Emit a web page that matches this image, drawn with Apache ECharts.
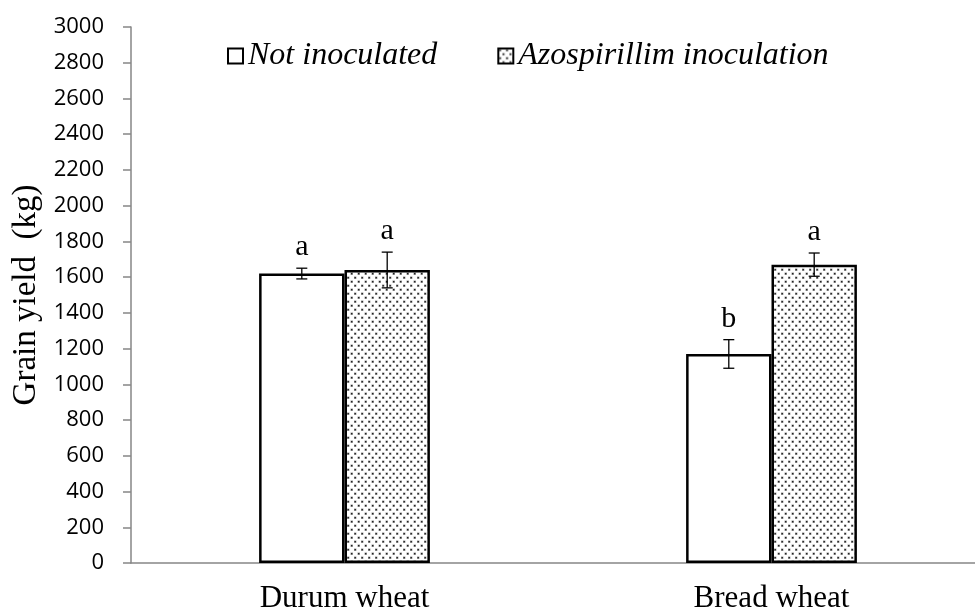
<!DOCTYPE html>
<html>
<head>
<meta charset="utf-8">
<script src="https://cdn.jsdelivr.net/npm/echarts@6/dist/echarts.min.js"></script>
<style>html,body{margin:0;padding:0;background:#fff;overflow:hidden;width:975px;height:615px}#c{width:985px;height:615px}</style>
</head>
<body>
<div id="c"></div>
<script>
var categories = ['Durum wheat', 'Bread wheat'];
var seriesNames = ['Not inoculated', 'Azospirillim inoculation'];
var notInoculated = [1620, 1170];
var notInoculatedErr = [30, 80];
var notInoculatedLetters = ['a', 'b'];
var azospirillum = [1640, 1670];
var azospirillumErr = [100, 65];
var azospirillumLetters = ['a', 'a'];
var yTicks = [0, 3000, 200];

var tile = document.createElement('canvas');
tile.width = 7; tile.height = 8;
var tc = tile.getContext('2d');
tc.fillStyle = '#fff'; tc.fillRect(0, 0, 7, 8);
tc.fillStyle = '#9a9a9a';
tc.fillRect(0.5, 0.5, 2.4, 2.4); tc.fillRect(4, 4.5, 2.4, 2.4);
tc.fillStyle = '#222';
tc.fillRect(1, 1, 1.4, 1.4); tc.fillRect(4.5, 5, 1.4, 1.4);

var errData = [];
for (var i = 0; i < categories.length; i++) {
  errData.push([i, 0, notInoculated[i], notInoculatedErr[i], notInoculatedLetters[i]]);
  errData.push([i, 1, azospirillum[i], azospirillumErr[i], azospirillumLetters[i]]);
}

var chart = echarts.init(document.getElementById('c'), null, {renderer: 'canvas'});
chart.setOption({
  animation: false,
  backgroundColor: '#fff',
  grid: {left: 131, top: 27, bottom: 52, right: 0, containLabel: false},
  legend: {
    data: seriesNames,
    left: 222, top: 35,
    itemWidth: 15, itemHeight: 15, itemGap: 60,
    icon: 'rect',
    textStyle: {fontFamily: 'Liberation Serif', fontStyle: 'italic', fontSize: 32, color: '#000'}
  },
  xAxis: {
    type: 'category', data: categories,
    axisLine: {lineStyle: {color: '#868686', width: 1.5}},
    axisTick: {show: false},
    axisLabel: {fontFamily: 'Liberation Serif', fontSize: 31, color: '#000', margin: 20}
  },
  yAxis: {
    type: 'value', min: yTicks[0], max: yTicks[1], interval: yTicks[2],
    name: 'Grain yield  (kg)', nameLocation: 'middle', nameGap: 88, nameRotate: 90,
    nameTextStyle: {fontFamily: 'Liberation Serif', fontSize: 33, color: '#000'},
    splitLine: {show: false},
    axisLine: {show: true, lineStyle: {color: '#868686', width: 1.5}},
    axisTick: {show: true, length: 8, lineStyle: {color: '#868686', width: 1.5}},
    axisLabel: {fontFamily: 'Open Sans', fontSize: 22, color: '#000', margin: 27,
      formatter: function (v) { return String(v); }}
  },
  series: [
    {
      name: seriesNames[0], type: 'bar', data: notInoculated,
      barGap: '0%', barCategoryGap: '60%',
      itemStyle: {color: '#fff', borderColor: '#000', borderWidth: 2.5}
    },
    {
      name: seriesNames[1], type: 'bar', data: azospirillum,
      barGap: '0%', barCategoryGap: '60%',
      itemStyle: {color: {image: tile, repeat: 'repeat'}, borderColor: '#000', borderWidth: 2.5}
    },
    {
      type: 'custom', data: errData, z: 10,
      renderItem: function (params, api) {
        var cat = api.value(0), grp = api.value(1), v = api.value(2), e = api.value(3);
        var letter = errData[params.dataIndex][4];
        var bw = api.size([1, 0])[0] * 0.2;
        var c = api.coord([cat, v]);
        var x = c[0] + (grp === 0 ? -bw / 2 : bw / 2);
        var yt = api.coord([cat, v + e])[1];
        var yb = api.coord([cat, v - e])[1];
        var cap = 5.5;
        var ls = {stroke: '#000', lineWidth: 1.3};
        return {
          type: 'group',
          children: [
            {type: 'line', shape: {x1: x, y1: yt, x2: x, y2: yb}, style: ls},
            {type: 'line', shape: {x1: x - cap, y1: yt, x2: x + cap, y2: yt}, style: ls},
            {type: 'line', shape: {x1: x - cap, y1: yb, x2: x + cap, y2: yb}, style: ls},
            {type: 'text', style: {text: letter, x: x, y: yt - 6, align: 'center', verticalAlign: 'bottom',
              fontFamily: 'Liberation Serif', fontSize: 30, fill: '#000'}}
          ]
        };
      }
    }
  ]
});
</script>
</body>
</html>
